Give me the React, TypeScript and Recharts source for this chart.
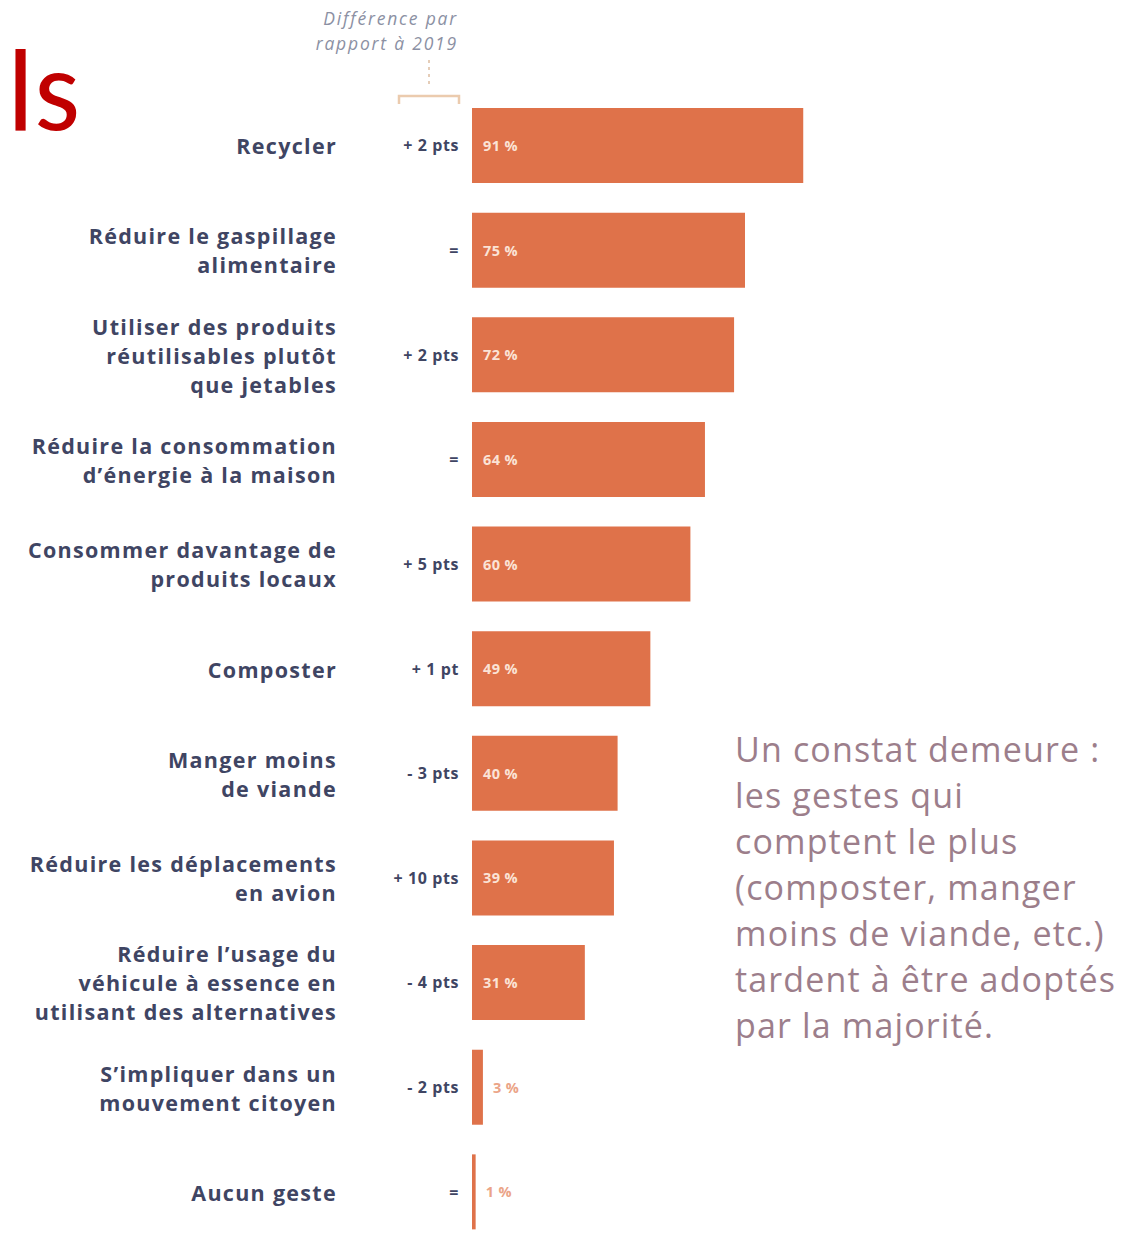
import React from "react";
import { BarChart, Bar, XAxis, YAxis, LabelList } from "recharts";

const categories = [
  "Recycler",
  "Réduire le gaspillage\nalimentaire",
  "Utiliser des produits\nréutilisables plutôt\nque jetables",
  "Réduire la consommation\nd’énergie à la maison",
  "Consommer davantage de\nproduits locaux",
  "Composter",
  "Manger moins\nde viande",
  "Réduire les déplacements\nen avion",
  "Réduire l’usage du\nvéhicule à essence en\nutilisant des alternatives",
  "S’impliquer dans un\nmouvement citoyen",
  "Aucun geste",
];
const values = [91, 75, 72, 64, 60, 49, 40, 39, 31, 3, 1];
const diffs = ["+ 2 pts", "=", "+ 2 pts", "=", "+ 5 pts", "+ 1 pt", "- 3 pts", "+ 10 pts", "- 4 pts", "- 2 pts", "="];

const data = categories.map((c, i) => ({ name: c, value: values[i], diff: diffs[i] }));

const BAR = "#DF724A";
const NAVY = "#3F4563";
const FONT = "'Open Sans', 'DejaVu Sans', sans-serif";

const CategoryTick = (props: any) => {
  const { x, y, payload, index } = props;
  const lines = String(payload.value).split("\n");
  const lh = 29;
  const start = y - ((lines.length - 1) * lh) / 2;
  return (
    <g>
      <text x={x - 129} y={start} textAnchor="end" dominantBaseline="central" fill={NAVY} fontFamily={FONT} fontWeight={700} fontSize={21.5} letterSpacing={1.3}>
        {lines.map((l, i) => (
          <tspan key={i} x={x - 129} y={start + i * lh}>{l}</tspan>
        ))}
      </text>
      <text x={x - 7} y={y} textAnchor="end" dominantBaseline="central" fill={NAVY} fontFamily={FONT} fontWeight={700} fontSize={16} letterSpacing={0.6}>
        {diffs[index]}
      </text>
    </g>
  );
};

const ValueLabel = (props: any) => {
  const { x, y, width, height, value } = props;
  const inside = width > 40;
  return (
    <text
      x={inside ? x + 11 : x + width + 10}
      y={y + height / 2}
      dominantBaseline="central"
      fill={inside ? "#FBE3D6" : "#EBA487"}
      fontFamily={FONT}
      fontWeight={700}
      fontSize={14.5}
      letterSpacing={0.4}
    >
      {`${value} %`}
    </text>
  );
};

export default function App() {
  return (
    <div style={{ position: "absolute", left: 0, top: 0, width: 1132, height: 1235, overflow: "hidden", background: "#fff" }}>
      <div style={{ position: "absolute", left: 7, top: 31, fontFamily: "'Carlito', 'Liberation Sans Narrow', 'Liberation Sans', Arial, sans-serif", fontSize: 118, color: "#C00000", lineHeight: 1 }}>ls</div>
      <div style={{ position: "absolute", left: 240, top: 6, width: 218, textAlign: "right", fontFamily: FONT, fontStyle: "italic", fontSize: 17.5, letterSpacing: 1.8, lineHeight: "25px", color: "#8B90A3" }}>
        Différence par<br />rapport à 2019
      </div>
      <svg style={{ position: "absolute", left: 0, top: 0 }} width={1132} height={110}>
        <line x1={429} y1={60} x2={429} y2={88} stroke="#E5CDB8" strokeWidth={2} strokeDasharray="3 4" />
        <path d="M399 104 V96 H459 V104" fill="none" stroke="#EBCBAE" strokeWidth={2.5} />
      </svg>
      <div style={{ position: "absolute", left: 0, top: 0 }}>
        <BarChart
          width={1132}
          height={1244}
          data={data}
          layout="vertical"
          margin={{ top: 93, right: 296, bottom: 0, left: 0 }}
        >
          <XAxis type="number" domain={[0, 100]} hide />
          <YAxis
            type="category"
            dataKey="name"
            width={472}
            axisLine={false}
            tickLine={false}
            tickMargin={0}
            tick={<CategoryTick />}
            interval={0}
          />
          <Bar dataKey="value" fill={BAR} barSize={75} isAnimationActive={false}>
            <LabelList dataKey="value" content={<ValueLabel />} />
          </Bar>
        </BarChart>
      </div>
      <div style={{ position: "absolute", left: 735, top: 726, fontFamily: "'Open Sans', sans-serif", fontSize: 34, letterSpacing: 1.15, lineHeight: "46px", color: "#9C7E8B", whiteSpace: "pre" }}>
        {"Un constat demeure :\nles gestes qui\ncomptent le plus\n(composter, manger\nmoins de viande, etc.)\ntardent à être adoptés\npar la majorité."}
      </div>
    </div>
  );
}
